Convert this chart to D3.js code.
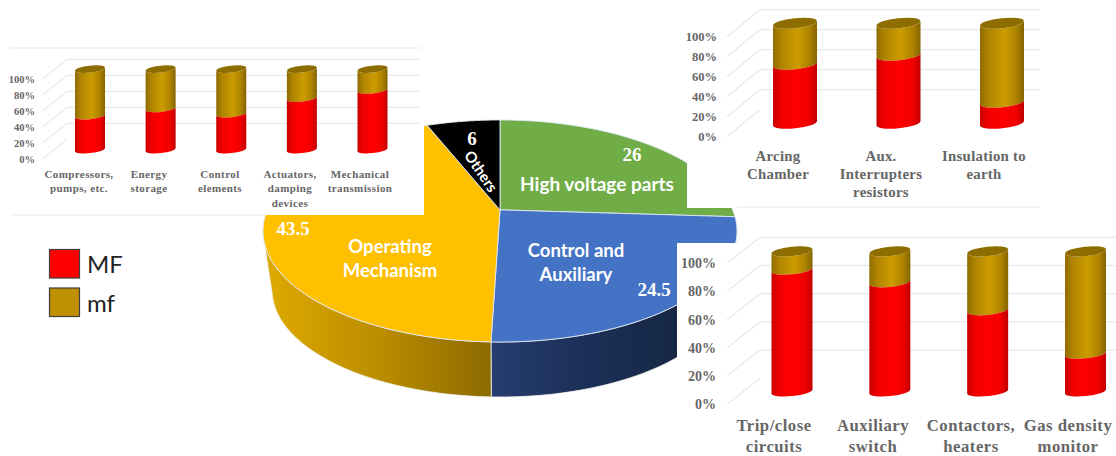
<!DOCTYPE html>
<html><head><meta charset="utf-8">
<script src="https://cdn.jsdelivr.net/npm/d3@7"></script>
<style>html,body{margin:0;padding:0;background:#fff;overflow:hidden}svg{display:block}</style>
</head><body><svg id="c" width="1116" height="456"></svg>
<script>
// ---- data ----
const pieNames = ["High voltage parts","Control and Auxiliary","Operating Mechanism","Others"];
const pieValues = [26,24.5,43.5,6];
const pieColors = ["#70ad47","#4472c4","#ffc000","#000000"];
const leftCats = [["Compressors,","pumps, etc."],["Energy","storage"],["Control","elements"],["Actuators,","damping","devices"],["Mechanical","transmission"]];
const leftMF = [42,51,44.5,64,74];
const topCats = [["Arcing","Chamber"],["Aux.","Interrupters","resistors"],["Insulation to","earth"]];
const topMF = [59,68,21];
const bottomCats = [["Trip/close","circuits"],["Auxiliary","switch"],["Contactors,","heaters"],["Gas density","monitor"]];
const bottomMF = [87,78,58,27];
const yTicks = [0,20,40,60,80,100];
const legendNames = ["MF","mf"];

const svg = d3.select("#c");
const defs = svg.append("defs");
function grad(id, stops, units){
  const g = defs.append("linearGradient").attr("id",id);
  if(units){g.attr("gradientUnits","userSpaceOnUse").attr("x1",units[0]).attr("x2",units[1]).attr("y1",0).attr("y2",0);}
  stops.forEach(s=>g.append("stop").attr("offset",s[0]).attr("stop-color",s[1]));
}
grad("gRed",[[0,"#c80000"],[.18,"#f00000"],[.5,"#ff0000"],[.82,"#f00000"],[1,"#c00000"]]);
grad("gGold",[[0,"#8f6c00"],[.2,"#b08500"],[.55,"#cc9c00"],[.82,"#ad8300"],[1,"#856400"]]);
grad("gWallO",[[0,"#dca800"],[.5,"#ba8c00"],[1,"#8c6a00"]],[272,492]);
grad("gWallB",[[0,"#253d70"],[.5,"#1c2f57"],[1,"#162845"]],[492,677]);

// ---- pie ----
const K = .19;
const top_ = {cx:500,cy:231,rx:237,ry:111}, bot_ = {cx:500,cy:290,rx:228,ry:107};
function project(a,r){ // pie angle → unit disc under perspective
  const u=r*Math.sin(a), v=-r*Math.cos(a), d=1-K*v;
  return [u*Math.sqrt(1-K*K)/d,(v-K)/d];
}
const onE=(E,p)=>[E.cx+E.rx*p[0],E.cy+E.ry*p[1]];
const line=d3.line();
const arcs=d3.pie().sort(null).value(d=>d)(pieValues);
function samples(a0,a1){return d3.range(0,61).map(i=>a0+(a1-a0)*i/60);}

// side wall
const wallG=svg.append("g");
arcs.forEach((d,i)=>{
  if(i!==1&&i!==2) return;
  const pts=samples(d.startAngle,d.endAngle).map(a=>project(a,1)).filter(p=>p[1]>=0.02);
  const poly=pts.map(p=>onE(top_,p)).concat(pts.slice().reverse().map(p=>onE(bot_,p)));
  wallG.append("path").attr("d",line(poly)+"Z").attr("fill",i===1?"url(#gWallB)":"url(#gWallO)").attr("stroke","#f2f2f2").attr("stroke-width",.8);
});
// top face
svg.append("g").selectAll("path").data(arcs).join("path")
  .attr("d",d=>{
    const pts=samples(d.startAngle,d.endAngle).map(a=>onE(top_,project(a,1)));
    return line([onE(top_,project(0,0))].concat(pts))+"Z";
  })
  .attr("fill",(d,i)=>pieColors[i]).attr("stroke","#dfe7f3").attr("stroke-width",.9).attr("stroke-linejoin","round");

// ---- white panels that sit on the pie ----
const panelBoxes=[[0,0,424,215],[687,0,429,208],[677,243,439,213]];
svg.append("g").selectAll("rect").data(panelBoxes).join("rect")
  .attr("x",d=>d[0]).attr("y",d=>d[1]).attr("width",d=>d[2]).attr("height",d=>d[3]).attr("fill","#fff");

// pie labels
const sans="Lato, 'Open Sans', sans-serif", serif="'Liberation Serif', serif";
const pl=svg.append("g").attr("fill","#fff").attr("text-anchor","middle");
function ptext(s,x,y,size,fam,weight,rot){
  const t=pl.append("text").attr("x",x).attr("y",y).attr("font-size",size).attr("font-family",fam).attr("font-weight",weight).attr("dominant-baseline","central").text(s);
  if(rot) t.attr("transform",`rotate(${rot} ${x} ${y})`);
}
ptext(pieNames[0],597,183,19,sans,700);
ptext("Control and",576,250,18.5,sans,700);
ptext("Auxiliary",576,274,18.5,sans,700);
ptext("Operating",390,246,18.5,sans,700);
ptext("Mechanism",390,270,18.5,sans,700);
ptext(pieNames[3],481.5,171,15,sans,700,56);
ptext(pieValues[0],632,154,19,serif,700);
ptext(pieValues[1],654,289,19,serif,700);
ptext(pieValues[2],293,228,19,serif,700);
ptext(pieValues[3],472,138,19,serif,700);

// ---- 3-D stacked bars ----
function panel(o){
  const g=svg.append("g");
  const y=d3.scaleLinear().domain([0,100]).range([o.y0,o.y100]);
  const dx=o.backDx, dy=o.backDy;
  // gridlines (floor-side diagonal and back wall)
  const gl=g.append("g").attr("stroke","#e9e9e9").attr("stroke-width",1.3).attr("fill","none");
  yTicks.forEach(t=>{
    gl.append("line").attr("x1",o.axisX).attr("x2",o.axisX+dx).attr("y1",y(t)).attr("y2",y(t)-dy);
    if(t>0) gl.append("line").attr("x1",o.axisX+dx).attr("x2",o.gridEnd).attr("y1",y(t)-dy).attr("y2",y(t)-dy);
  });
  o.frame.forEach(f=>gl.append("line").attr("x1",f[0]).attr("x2",f[1]).attr("y1",f[2]).attr("y2",f[2]).attr("stroke","#f0f0f0"));
  // axis
  const ax=g.append("g").attr("transform",`translate(${o.axisX},0)`)
    .call(d3.axisLeft(y).tickValues(yTicks).tickSize(0).tickPadding(o.tickPad).tickFormat(d=>d+"%"));
  ax.select(".domain").remove();
  ax.selectAll("text").attr("font-family",serif).attr("font-weight",700).attr("font-size",o.tickSize).attr("fill","#666");
  // cylinders
  const x=d3.scalePoint().domain(d3.range(o.values.length)).range(o.xRange);
  const w=o.barW, ry=o.barW*.115, slope=o.barW*.105;
  const Y=d3.scaleLinear().domain([0,100]).range([o.barBase,o.barTop]);
  function cyl(cx,v0,v1,fill){
    const l=cx-w/2,r=cx+w/2;
    const yL=v=>Y(v)-ry*.55+slope*.5-1, yR=v=>yL(v)-slope;
    const rot=-Math.atan2(slope,w)*180/Math.PI;
    g.append("path").attr("fill",fill).attr("d",
      `M${l},${yL(v1)}A${w/2},${ry} ${rot} 0 0 ${r},${yR(v1)}L${r},${yR(v0)}A${w/2},${ry} ${rot} 0 1 ${l},${yL(v0)}Z`);
  }
  o.values.forEach((v,i)=>{
    const cx=x(i);
    cyl(cx,v,100,"url(#gGold)");
    cyl(cx,0,v,"url(#gRed)");
    const rot=-Math.atan2(slope,w)*180/Math.PI, yc=Y(100)-ry*.55-1;
    g.append("ellipse").attr("cx",cx).attr("cy",yc).attr("rx",w/2).attr("ry",ry)
      .attr("transform",`rotate(${rot} ${cx} ${yc})`).attr("fill","#8e6d00");
  });
  // category labels
  o.cats.forEach((c,i)=>{
    const t=g.append("text").attr("text-anchor","middle").attr("font-family",serif).attr("font-weight",700)
      .attr("font-size",o.catSize).attr("fill","#666").attr("letter-spacing",o.catSpacing||.3);
    c.forEach((s,j)=>t.append("tspan").attr("x",o.catX[i]).attr("y",o.catY+j*o.catLead).text(s));
  });
}
panel({values:leftMF,cats:leftCats,y0:159,y100:79,axisX:43,backDx:24,backDy:19.7,gridEnd:420,tickPad:8,tickSize:10.5,
  xRange:[90,372.5],barW:30,barBase:152.5,barTop:72,catX:[79,149,220,290,360],catY:178,catLead:14.4,catSize:11,catSpacing:.4,
  frame:[[10,420,48],[10,265,215]]});
panel({values:topMF,cats:topCats,y0:136.7,y100:36.7,axisX:727,backDx:33,backDy:27,gridEnd:1040,tickPad:10,tickSize:12.5,
  xRange:[795,1002],barW:44,barBase:127,barTop:27,catX:[778,881,984],catY:161,catLead:18,catSize:14.8,
  frame:[[737,1040,207]]});
panel({values:bottomMF,cats:bottomCats,y0:404.3,y100:263.3,axisX:727,backDx:33,backDy:26,gridEnd:1116,tickPad:11,tickSize:14,
  xRange:[792,1085.5],barW:41,barBase:395,barTop:255,catX:[774,873,971,1068],catY:431,catLead:21,catSize:16.7,catSpacing:.5,
  frame:[]});

// ---- legend ----
const lg=svg.append("g");
lg.selectAll("rect").data(legendNames).join("rect")
  .attr("x",49.5).attr("y",(d,i)=>249.5+i*38.5).attr("width",30).attr("height",28.5)
  .attr("fill",(d,i)=>i?"#bf9000":"#ff0000").attr("stroke","#3f3f3f").attr("stroke-width",1.2);
lg.selectAll("text").data(legendNames).join("text")
  .attr("x",87).attr("y",(d,i)=>273+i*38.5).attr("font-family",sans).attr("font-size",24).attr("fill","#222").text(d=>d);
</script></body></html>
